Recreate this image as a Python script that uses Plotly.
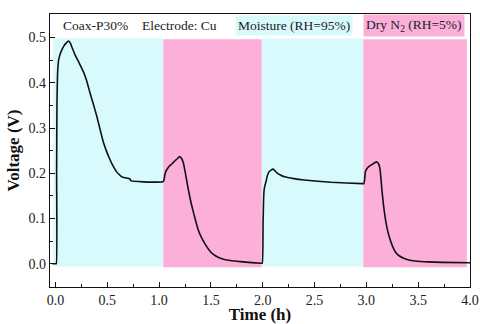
import plotly.graph_objects as go

# Time (h) and voltage (V)
time_h = [-0.03, 0.0, 0.008, 0.011, 0.014, 0.02, 0.03, 0.043, 0.06, 0.08, 0.1, 0.123, 0.14, 0.16, 0.19, 0.23,
          0.27, 0.30, 0.33, 0.365, 0.40, 0.43, 0.46, 0.49, 0.52, 0.555, 0.59, 0.62, 0.64, 0.67, 0.70, 0.72,
          0.73, 0.85, 1.036,
          1.045, 1.055, 1.063, 1.08, 1.10, 1.125, 1.15, 1.175, 1.197, 1.215, 1.235, 1.255, 1.277, 1.30, 1.325,
          1.35, 1.373, 1.40, 1.44, 1.48, 1.52, 1.58, 1.65, 1.81, 1.98, 1.995,
          2.003, 2.008, 2.012, 2.02, 2.03, 2.045, 2.06, 2.08, 2.10, 2.12, 2.14, 2.17, 2.21, 2.30, 2.40, 2.66,
          2.96,
          2.976, 2.985, 2.99, 3.005, 3.02, 3.04, 3.06, 3.08, 3.10, 3.115, 3.13, 3.14, 3.15, 3.165, 3.18, 3.20,
          3.22, 3.25, 3.28, 3.32, 3.36, 3.41, 3.47, 3.60, 3.73, 4.0]
voltage = [0.0, 0.0, 0.0, 0.2, 0.35, 0.42, 0.45, 0.462, 0.472, 0.481, 0.487, 0.492, 0.489, 0.478, 0.461, 0.443,
           0.424, 0.405, 0.38, 0.353, 0.325, 0.297, 0.27, 0.25, 0.233, 0.216, 0.203, 0.196, 0.192, 0.19, 0.189,
           0.187, 0.183, 0.181, 0.181,
           0.183, 0.196, 0.203, 0.21, 0.216, 0.221, 0.227, 0.232, 0.237, 0.233, 0.222, 0.198, 0.17, 0.143,
           0.119, 0.097, 0.078, 0.062, 0.045, 0.031, 0.021, 0.013, 0.008, 0.004, 0.001, 0.001,
           0.09, 0.14, 0.16, 0.172, 0.18, 0.195, 0.203, 0.207, 0.209, 0.205, 0.200, 0.196, 0.192, 0.188,
           0.185, 0.180, 0.177,
           0.177, 0.19, 0.203, 0.21, 0.214, 0.217, 0.22, 0.223, 0.225, 0.222, 0.212, 0.19, 0.163, 0.13, 0.104,
           0.078, 0.06, 0.04, 0.026, 0.017, 0.012, 0.008, 0.006, 0.004, 0.003, 0.002]

# Atmosphere periods
moist_periods = [(-0.02, 1.04), (1.99, 2.97)]
dry_periods = [(1.04, 1.99), (2.97, 3.97)]
x_ticks = [0.0, 0.5, 1.0, 1.5, 2.0, 2.5, 3.0, 3.5, 4.0]
y_ticks = [0.0, 0.1, 0.2, 0.3, 0.4, 0.5]

CYAN = "#D8FAFD"
PINK = "#FBAFD9"
FONT = "Liberation Serif"

fig = go.Figure()
fig.add_trace(go.Scatter(x=time_h, y=voltage, mode="lines",
                         line=dict(color="#111111", width=1.6, shape="spline", smoothing=0.4),
                         showlegend=False))

shapes = []
for x0, x1 in moist_periods:
    shapes.append(dict(type="rect", xref="x", yref="y", x0=x0, x1=x1, y0=-0.006, y1=0.498,
                       fillcolor=CYAN, line=dict(width=0), layer="below"))
for x0, x1 in dry_periods:
    shapes.append(dict(type="rect", xref="x", yref="y", x0=x0, x1=x1, y0=-0.008, y1=0.496,
                       fillcolor=PINK, line=dict(width=0), layer="below"))

anns = [
    dict(x=0.39, y=0.527, text="Coax-P30%", showarrow=False, font=dict(family=FONT, size=13.5, color="#222")),
    dict(x=1.20, y=0.527, text="Electrode: Cu", showarrow=False, font=dict(family=FONT, size=13.5, color="#222")),
    dict(x=2.305, y=0.527, text="Moisture (RH=95%)", showarrow=False, bgcolor=CYAN, borderpad=2,
         font=dict(family=FONT, size=13.5, color="#222")),
    dict(x=3.46, y=0.527, text="Dry N<sub>2</sub> (RH=5%)", showarrow=False, bgcolor=PINK, borderpad=2,
         font=dict(family=FONT, size=13.5, color="#222")),
]
for a in anns:
    a.update(xref="x", yref="y")

axis_common = dict(showline=True, linecolor="#111", linewidth=1.2, mirror=True, ticks="inside",
                   ticklen=5, tickwidth=1, tickcolor="#111", showgrid=False, zeroline=False,
                   automargin=False, tickfont=dict(family=FONT, size=14, color="#222"))

fig.update_layout(
    width=480, height=324,
    margin=dict(l=50, r=10, t=14, b=37),
    paper_bgcolor="white", plot_bgcolor="white",
    shapes=shapes, annotations=anns,
    xaxis=dict(range=[-0.053, 4.0], tickvals=x_ticks, ticktext=[f"{v:.1f}" for v in x_ticks],
               minor=dict(ticks="inside", ticklen=3, tickcolor="#111", dtick=0.25, tick0=0),
               title=dict(text="<b>Time (h)</b>", font=dict(family=FONT, size=17, color="#111"), standoff=2),
               **axis_common),
    yaxis=dict(range=[-0.0515, 0.552], tickvals=y_ticks, ticktext=[f"{v:.1f}" for v in y_ticks],
               minor=dict(ticks="inside", ticklen=3, tickcolor="#111", dtick=0.05, tick0=0),
               title=dict(text="<b>Voltage (V)</b>", font=dict(family=FONT, size=17, color="#111"), standoff=4),
               **axis_common),
)

fig.write_html("out.html")
